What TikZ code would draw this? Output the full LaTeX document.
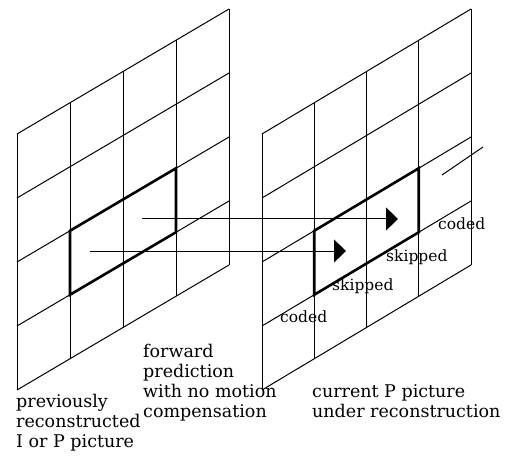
\documentclass[tikz,border=0pt]{standalone}
\usepackage{fontspec}
\setmainfont{DejaVu Serif}
\usepackage{tikz}
\usetikzlibrary{arrows.meta,positioning}

\begin{document}
\begin{tikzpicture}[x=1pt, y=-1pt,
  caption/.style={anchor=base west, align=left, inner sep=0pt, font=\fontsize{17.5}{20}\selectfont},
  tag/.style={anchor=west, inner sep=0pt, font=\fontsize{15.5}{18}\selectfont},
  edge/.style={line width=2.6pt, line join=miter},
  flow/.style={line width=1pt, -{Triangle[length=12pt, width=23pt]}}]
\useasboundingbox (0,0) rectangle (506,457);

% previously reconstructed picture
\begin{scope}[shift={(17,134)}, x={(53pt,31.25pt)}, y={(0pt,-64pt)}, line width=1pt]
\foreach \i in {0,...,4} \draw (\i,0) -- (\i,4);
\foreach \j in {0,...,4} \draw (0,\j) -- (4,\j);
\draw [edge] (1,2) -- (3,2) -- (3,3) -- (1,3) -- cycle;
\end{scope}

% current picture
\begin{scope}[shift={(262,134)}, x={(52.25pt,31.25pt)}, y={(0pt,-64pt)}, line width=1pt]
\foreach \i in {0,...,4} \draw (\i,0) -- (\i,4);
\foreach \j in {0,...,4} \draw (0,\j) -- (4,\j);
\draw [edge] (1,2) -- (3,2) -- (3,3) -- (1,3) -- cycle;
\end{scope}

\coordinate (refA) at (142,219);
\coordinate (curA) at (398,219);
\coordinate (refB) at (90,251);
\coordinate (curB) at (346,251);
\draw [flow] (refA) -- (curA);
\draw [flow] (refB) -- (curB);

\coordinate (markA) at (442,175);
\coordinate (markB) at (483,147);
\draw [line width=1pt] (markA) -- (markB);

\node [tag] (codedR) at (438,224) {coded};
\node [tag] (skipR) at (386,257) {skipped};
\node [tag] (skipL) at (332,286) {skipped};
\node [tag] (codedL) at (280,317) {coded};

% base anchor sits on the last line
\node [caption] (prevcap) at (16,447) {previously\\reconstructed\\I or P picture};
\node [caption] (fwdcap) at (143,417) {forward\\prediction\\with no motion\\compensation};
\node [caption] (curcap) at (312,417) {current P picture\\under reconstruction};

\end{tikzpicture}
\end{document}
